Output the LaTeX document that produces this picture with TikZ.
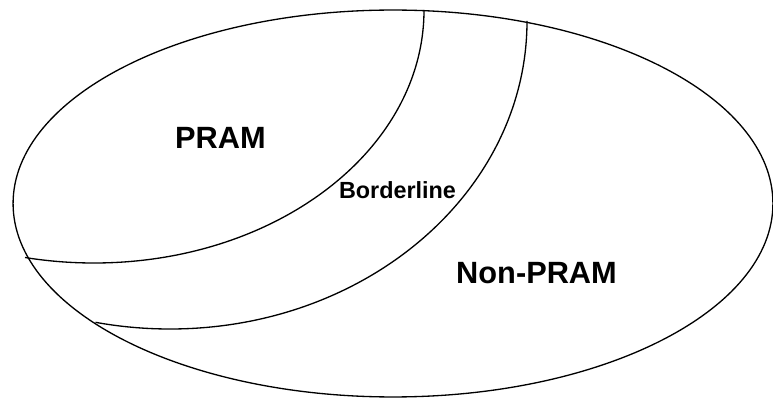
\documentclass[tikz,border=0pt]{standalone}
\usepackage{fontspec}
\setmainfont{Liberation Sans}
\usepackage{tikz}
\usetikzlibrary{positioning}

\begin{document}
\begin{tikzpicture}[x=0.02cm, y=-0.02cm, line width=0.75pt,
    biglabel/.style={font=\bfseries\fontsize{17.5}{20}\selectfont, inner sep=0pt},
    smalllabel/.style={font=\bfseries\fontsize{13.3}{16}\selectfont, inner sep=0pt}]
        \useasboundingbox (0,0) rectangle (773,398);
        % outer set
        \draw (393,203.5) ellipse [x radius=7.6cm, y radius=3.87cm];
        % inner boundaries
        \coordinate (inTop) at (424,10);
        \coordinate (inLow) at (94,263);
        \coordinate (inEnd) at (25,257.5);
        \coordinate (outTop) at (527,21);
        \coordinate (outLow) at (170,329);
        \coordinate (outEnd) at (95.5,322.3);
        \draw (inTop) .. controls (424,149.7) and (276.3,263) .. (inLow)
              .. controls (71,263) and (48,261.2) .. (inEnd);
        \draw (outTop) .. controls (527,191.1) and (367.2,329) .. (outLow)
              .. controls (145.1,329) and (120.1,326.8) .. (outEnd);
        \node[biglabel] (pram) at (220.5,138) {PRAM};
        \node[smalllabel] (border) at (397.5,190) {Borderline};
        \node[biglabel] (nonpram) at (536.5,273) {Non-PRAM};
      \end{tikzpicture}
\end{document}
